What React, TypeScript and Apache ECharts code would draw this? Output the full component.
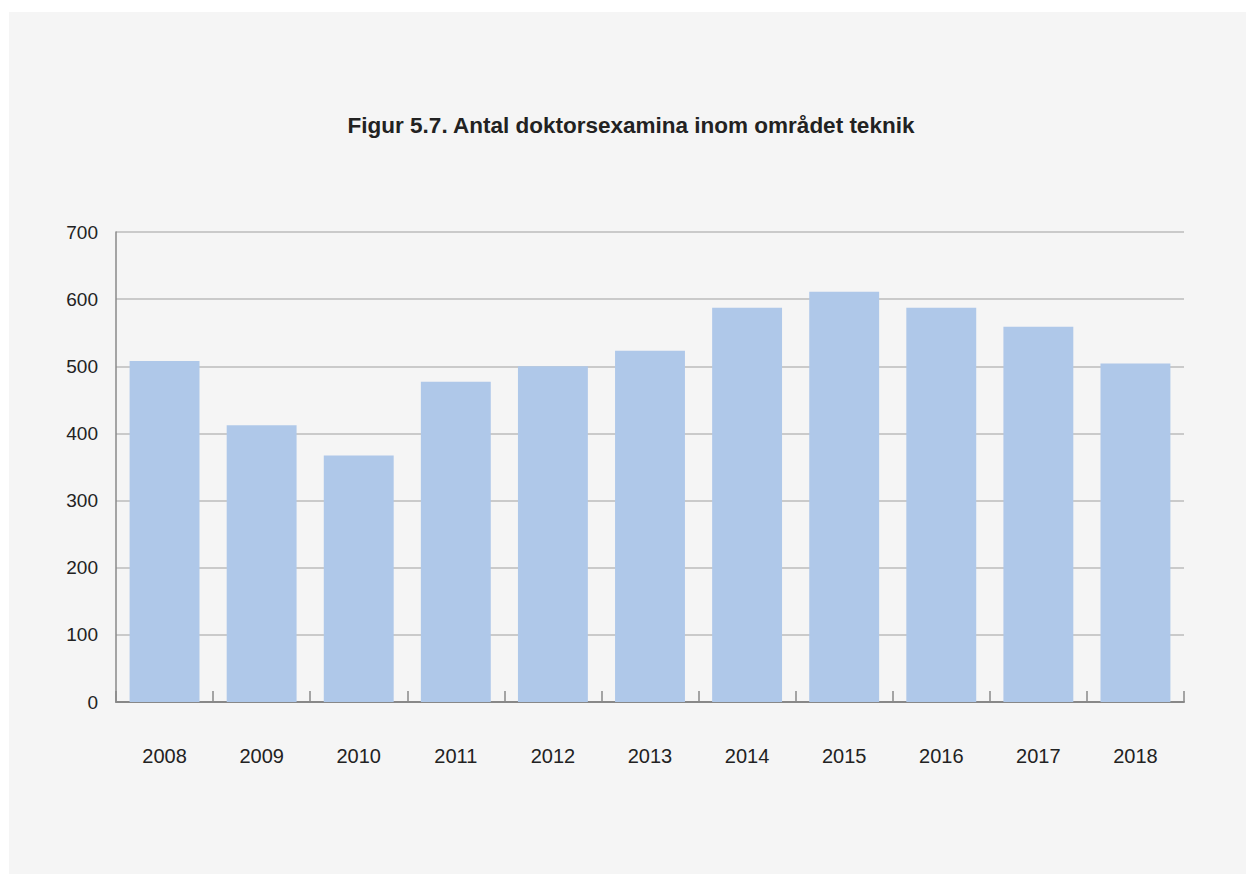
import React, { useEffect, useRef } from "react";
import * as echarts from "echarts";

const title = "Figur 5.7. Antal doktorsexamina inom området teknik";
const years = ["2008", "2009", "2010", "2011", "2012", "2013", "2014", "2015", "2016", "2017", "2018"];
const values = [508, 412, 367, 477, 500, 523, 587, 611, 587, 559, 504];

const FONT = "Liberation Sans, Arial, sans-serif";

export default function App() {
  const ref = useRef<HTMLDivElement>(null);
  useEffect(() => {
    if (!ref.current) return;
    const chart = echarts.init(ref.current, null, { renderer: "svg" });
    chart.setOption({
      animation: false,
      backgroundColor: "#f5f5f5",
      graphic: [
        {
          type: "text",
          x: 622,
          y: 113,
          style: {
            text: title,
            fill: "#222",
            font: `bold 22.5px ${FONT}`,
            textAlign: "center",
            textVerticalAlign: "middle",
          },
        },
      ],
      grid: { left: 107, right: 62, top: 220, bottom: 172 },
      xAxis: {
        type: "category",
        data: years,
        axisLine: { show: true, lineStyle: { color: "#888", width: 2 } },
        axisTick: { show: true, inside: true, length: 11, lineStyle: { color: "#888", width: 1.5 } },
        axisLabel: { margin: 44, fontFamily: FONT, fontSize: 20, color: "#222" },
        splitLine: { show: false },
      },
      yAxis: {
        type: "value",
        min: 0,
        max: 700,
        interval: 100,
        axisLine: { show: true, lineStyle: { color: "#888", width: 1.5 } },
        axisTick: { show: false },
        axisLabel: { margin: 18, fontFamily: FONT, fontSize: 19, color: "#222" },
        splitLine: { show: true, lineStyle: { color: "#bbb", width: 1.5 } },
      },
      series: [
        {
          type: "bar",
          data: values,
          barWidth: "72%",
          itemStyle: { color: "#afc8e9" },
        },
      ],
    });
    return () => chart.dispose();
  }, []);
  return (
    <div
      ref={ref}
      style={{ position: "absolute", left: 9, top: 12, width: 1237, height: 862 }}
    />
  );
}
